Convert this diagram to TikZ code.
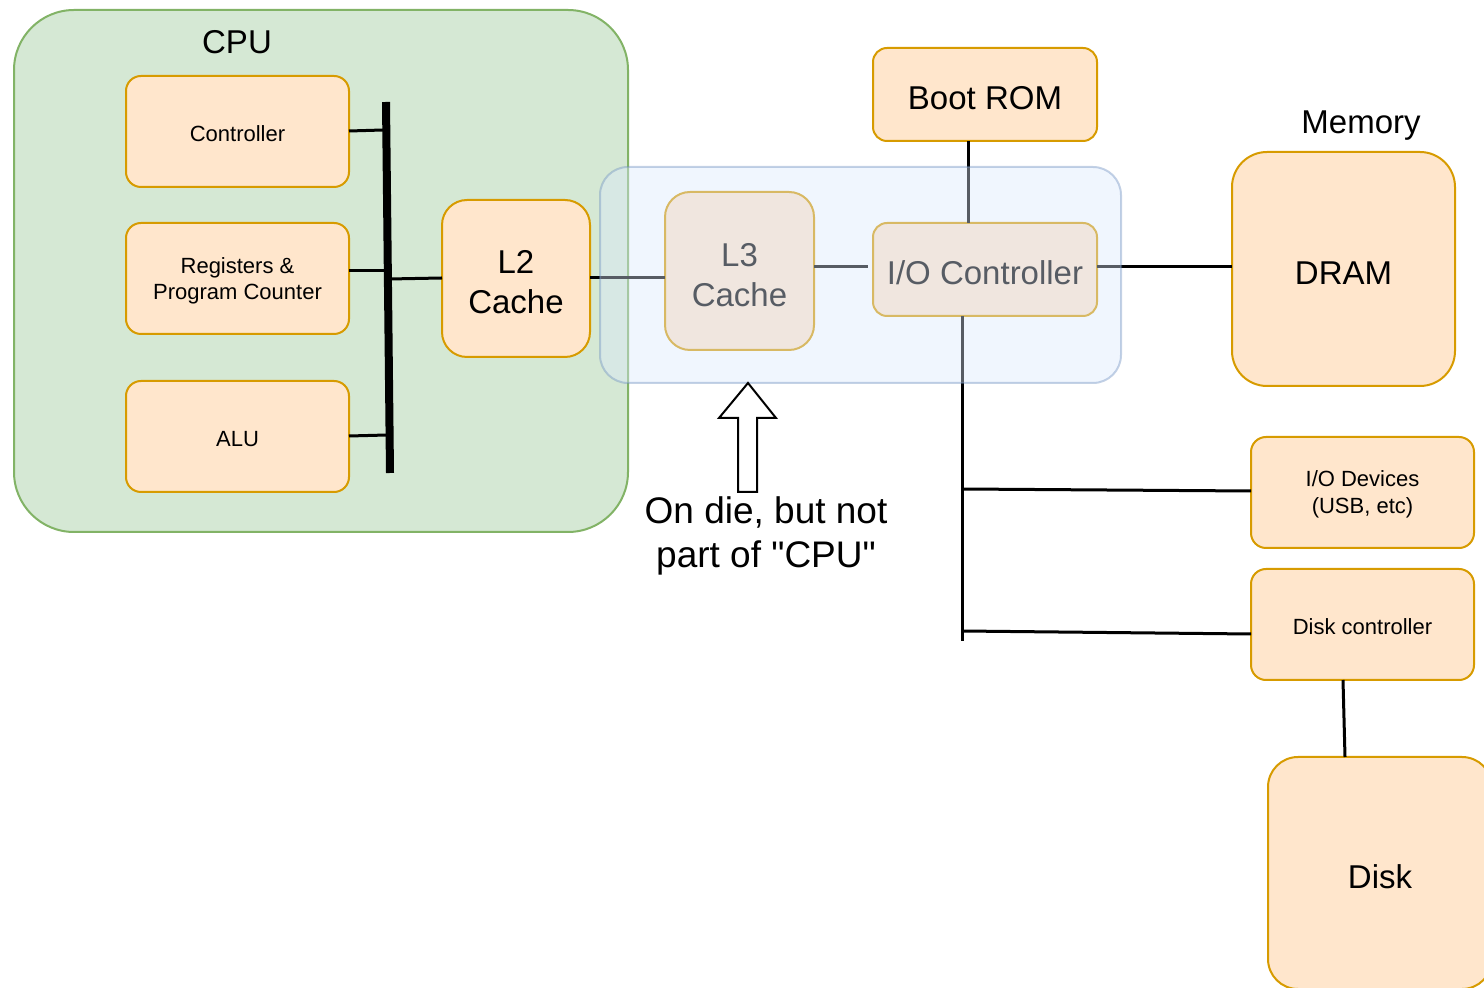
\documentclass[tikz,border=0pt]{standalone}
\usepackage{fontspec}
\setmainfont{Liberation Sans}
% extra room above the first text line, so labels sit a little lower in their boxes
\newcommand\lineup{\rule{0pt}{0.93em}}
\begin{document}
\begin{tikzpicture}[x=0.5pt,y=-0.5pt,
  every node/.style={inner sep=0pt,outer sep=0pt,align=center,
    font=\fontsize{11}{13}\selectfont,
    execute at begin node={\lineup}},
  cpubox/.style={draw=cpuline,fill=cpufill,line width=1pt,rounded corners=30pt},
  part/.style={draw=partline,fill=partfill,line width=1pt,rounded corners=7.5pt},
  bigpart/.style={part,rounded corners=12.5pt},
  dieband/.style={draw=dieline,fill=diefill,line width=1pt,rounded corners=14pt,opacity=0.4},
  wire/.style={line width=1.5pt,black},
  bus/.style={line width=4pt,black},
  big/.style={font=\fontsize{16.5}{20}\selectfont},
]
\definecolor{cpufill}{HTML}{D5E8D4}
\definecolor{cpuline}{HTML}{82B366}
\definecolor{partfill}{HTML}{FFE6CC}
\definecolor{partline}{HTML}{D79B00}
\definecolor{diefill}{HTML}{DAE8FC}
\definecolor{dieline}{HTML}{6C8EBF}

\useasboundingbox (0,0) rectangle (1484,988);

% CPU package
\node[cpubox,minimum width=307pt,minimum height=261pt] (cpu) at (321,271) {};
\node[big] (cpulabel) at (237,38) {CPU};

% units inside the CPU
\node[part,minimum width=111.5pt,minimum height=55.5pt] (ctrl) at (237.5,131.5) {Controller};
\node[part,minimum width=111.5pt,minimum height=55.5pt] (regs) at (237.5,278.5) {\lineup Registers \&\\Program Counter};
\node[part,minimum width=111.5pt,minimum height=55.5pt] (alu) at (237.5,436.5) {ALU};
\node[bigpart,big,minimum width=74pt,minimum height=78.5pt] (l2) at (516,278.5) {\lineup L2\\Cache};

% internal bus
\coordinate (busT) at (386,102);
\coordinate (busB) at (390,473);
\coordinate (tapC) at (383,130);
\coordinate (tapR) at (385,271);
\coordinate (tapA) at (387,435);
\coordinate (tapL) at (389,279);
\draw[bus] (busT) -- (busB);
\draw[wire] (ctrl.east |- 0,131) -- (tapC);
\draw[wire] (regs.east |- 0,271) -- (tapR);
\draw[wire] (alu.east |- 0,436) -- (tapA);
\draw[wire] (tapL) -- (l2.west |- 0,278);

% on-die parts outside the CPU
\node[bigpart,big,minimum width=74.5pt,minimum height=79pt] (l3) at (739.5,271) {\lineup L3\\Cache};
\node[part,big,rounded corners=7pt,minimum width=112pt,minimum height=46.5pt] (ioc) at (985,269.5) {I/O Controller};
\node[part,big,rounded corners=7pt,minimum width=112pt,minimum height=46.5pt] (rom) at (985,94.5) {Boot ROM};

% memory and devices
\node[big] (memlabel) at (1361,122) {Memory};
\node[part,big,rounded corners=17.5pt,minimum width=111.5pt,minimum height=117pt] (dram) at (1343.5,269) {DRAM};
\node[part,font=\fontsize{11}{13.5}\selectfont,minimum width=111.5pt,minimum height=55.5pt] (iodev) at (1362.5,492.5) {\lineup I/O Devices\\(USB, etc)};
\node[part,minimum width=111.5pt,minimum height=55.5pt] (diskc) at (1362.5,624.5) {Disk controller};
\node[part,big,rounded corners=15pt,minimum width=112pt,minimum height=116pt] (disk) at (1380,873) {Disk};

% connections
\coordinate (l3in) at (665,278);
\coordinate (iocin) at (868,267);
\coordinate (iobusEnd) at (962,641);
\coordinate (tapDev) at (962,489);
\coordinate (tapDisk) at (962,631);
\draw[wire] (l2.east |- l3in) -- (l3in);
\draw[wire] (l3.east |- iocin) -- (iocin);
\draw[wire] (rom.south -| 968,0) -- (ioc.north -| 968,0);
\draw[wire] (ioc.east |- 0,267) -- (dram.west |- 0,267);
\draw[wire] (ioc.south -| iobusEnd) -- (iobusEnd);
\draw[wire] (tapDev) -- (iodev.west |- 0,491);
\draw[wire] (tapDisk) -- (diskc.west |- 0,634);
\draw[wire] (diskc.south -| 1343,0) -- (disk.north -| 1345,0);

% translucent die region
\node[dieband,minimum width=260.5pt,minimum height=108pt] (die) at (860.5,275) {};

% callout arrow and its note
\draw[line width=1pt,fill=white] (738,492) -- (738,418) -- (719,418) -- (748,383)
  -- (776,418) -- (757,418) -- (757,492) -- cycle;
\node[font=\fontsize{18.5}{22}\selectfont] (note) at (766,532) {\lineup On die, but not\\part of \textquotedbl CPU\textquotedbl};
\end{tikzpicture}
\end{document}
